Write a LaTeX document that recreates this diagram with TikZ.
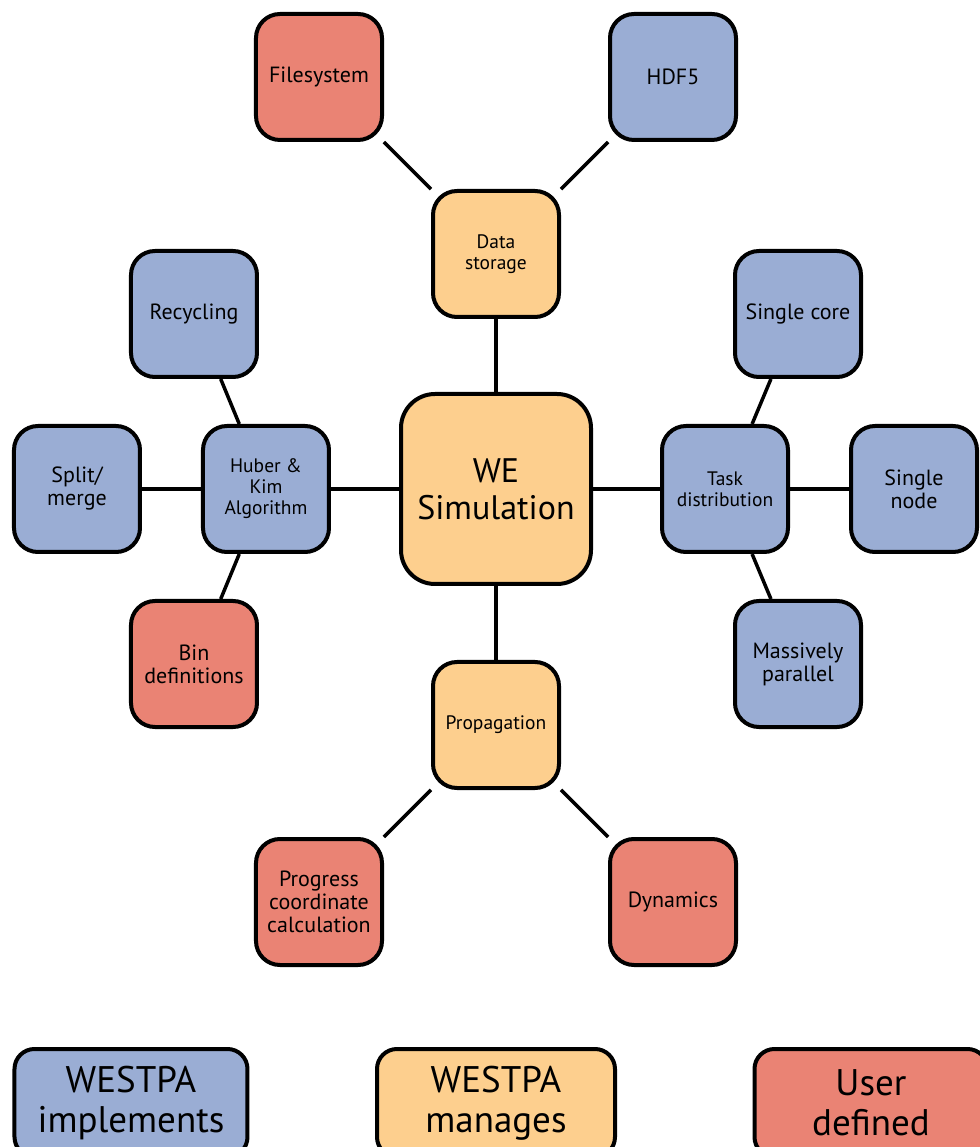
\documentclass[tikz,border=0pt]{standalone}
\usepackage{fontspec}
\setmainfont{PT Sans}
\usetikzlibrary{positioning}

\definecolor{implblue}{RGB}{154,173,212}
\definecolor{mgrorange}{RGB}{253,207,142}
\definecolor{userred}{RGB}{234,131,116}

\begin{document}
\begin{tikzpicture}[
    x=1pt, y=1pt,
    box/.style={rectangle, draw, line width=4pt, rounded corners=24pt,
        minimum size=126pt, align=center, font=\fontsize{22}{23}\selectfont},
    impl/.style={box, fill=implblue},
    mgr/.style={box, fill=mgrorange},
    usr/.style={box, fill=userred},
    inner/.style={font=\fontsize{19.5}{21}\selectfont},
    legend/.style={minimum width=233pt, minimum height=108pt,
        rounded corners=20pt, font=\fontsize{37}{40}\selectfont},
    link/.style={line width=3.5pt}
]
\useasboundingbox (-496,-658) rectangle (483,489);

% centre
\node[mgr, minimum size=190pt, rounded corners=34pt,
      font=\fontsize{34}{37}\selectfont] (sim) {WE\\Simulation};

% storage branch
\node[mgr, inner, above=73pt of sim] (store) {Data\\storage};
\node[usr, above left=47pt and 47pt of store] (fsys) {Filesystem};
\node[impl, above right=47pt and 47pt of store] (hdf) {HDF5};

% resampling branch
\node[impl, inner, left=68pt of sim] (hk) {Huber \&\\Kim\\Algorithm};
\node[impl, left=59pt of hk] (split) {Split/\\merge};
\node[impl, above=45pt of hk, xshift=-72pt] (recyc) {Recycling};
\node[usr, below=45pt of hk, xshift=-72pt] (bins) {Bin\\definitions};

% work manager branch
\node[impl, inner, right=67pt of sim] (task) {Task\\distribution};
\node[impl, right=59pt of task] (snode) {Single\\node};
\node[impl, above=45pt of task, xshift=73pt] (score) {Single core};
\node[impl, below=45pt of task, xshift=73pt] (mpar) {Massively\\parallel};

% propagation branch
\node[mgr, inner, below=74pt of sim] (prop) {Propagation};
\node[usr, below left=47pt and 47pt of prop] (pcoord) {Progress\\coordinate\\calculation};
\node[usr, below right=47pt and 47pt of prop] (dyn) {Dynamics};

\draw[link] (sim) -- (store);
\draw[link] (store) -- (fsys);
\draw[link] (store) -- (hdf);

\draw[link] (sim) -- (hk);
\draw[link] (hk) -- (split);
\draw[link] (hk) -- (recyc);
\draw[link] (hk) -- (bins);

\draw[link] (sim) -- (task);
\draw[link] (task) -- (snode);
\draw[link] (task) -- (score);
\draw[link] (task) -- (mpar);

\draw[link] (sim) -- (prop);
\draw[link] (prop) -- (pcoord);
\draw[link] (prop) -- (dyn);

% legend
\node[impl, legend] (legimpl) at (-365,-614) {WESTPA\\implements};
\node[mgr, legend, minimum width=238pt] (legmgr) at (0,-614) {WESTPA\\manages};
\node[usr, legend] (leguser) at (375,-614) {User\\defined};

\end{tikzpicture}
\end{document}
